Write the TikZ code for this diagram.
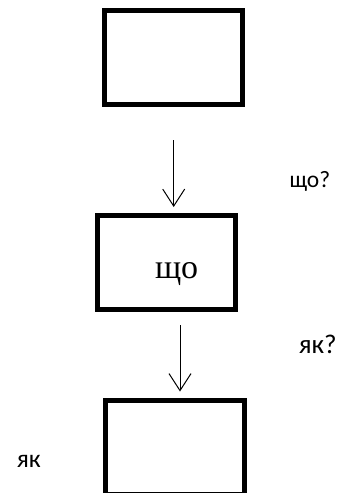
\documentclass[tikz,border=0pt]{standalone}
\usepackage{fontspec}
\setmainfont{Liberation Serif}
\newfontfamily\calfont{Carlito}
\usetikzlibrary{arrows.meta}
\begin{document}
\begin{tikzpicture}[x=1pt,y=-1pt,
  boxnode/.style={draw, line width=5pt, minimum width=138pt, minimum height=94pt, inner sep=0pt, outer sep=0pt},
  arr/.style={line width=1pt, -{Straight Barb[length=17pt,width=22pt,line width=1pt]}},
  lbl/.style={anchor=base west, inner sep=0pt, outer sep=0pt}]
\useasboundingbox (0,0) rectangle (355,493);
% boxes
\node[boxnode] (top) at (173.3,57.4) {};
\node[boxnode] (mid) at (166.4,262.4) {};
\node[boxnode, minimum width=139pt, minimum height=93.5pt] (bot) at (174.9,447.3) {};
% arrows
\coordinate (a1s) at (173.7,140);
\coordinate (a1e) at (173.7,207);
\coordinate (a2s) at (180,325);
\coordinate (a2e) at (180,391.5);
\draw[arr] (a1s) -- (a1e);
\draw[arr] (a2s) -- (a2e);
% texts
\node[lbl, font=\fontsize{34}{40}\selectfont] (t1) at (155,278.3) {що};
\node[lbl, font=\calfont\fontsize{23.5}{28}\selectfont] (q1) at (289.5,187.3) {що?};
\node[lbl, font=\calfont\fontsize{27}{32}\selectfont] (q2) at (298.8,353.3) {як?};
\node[lbl, font=\calfont\fontsize{25.5}{30}\selectfont] (t2) at (16.8,467.7) {як};
\end{tikzpicture}
\end{document}
